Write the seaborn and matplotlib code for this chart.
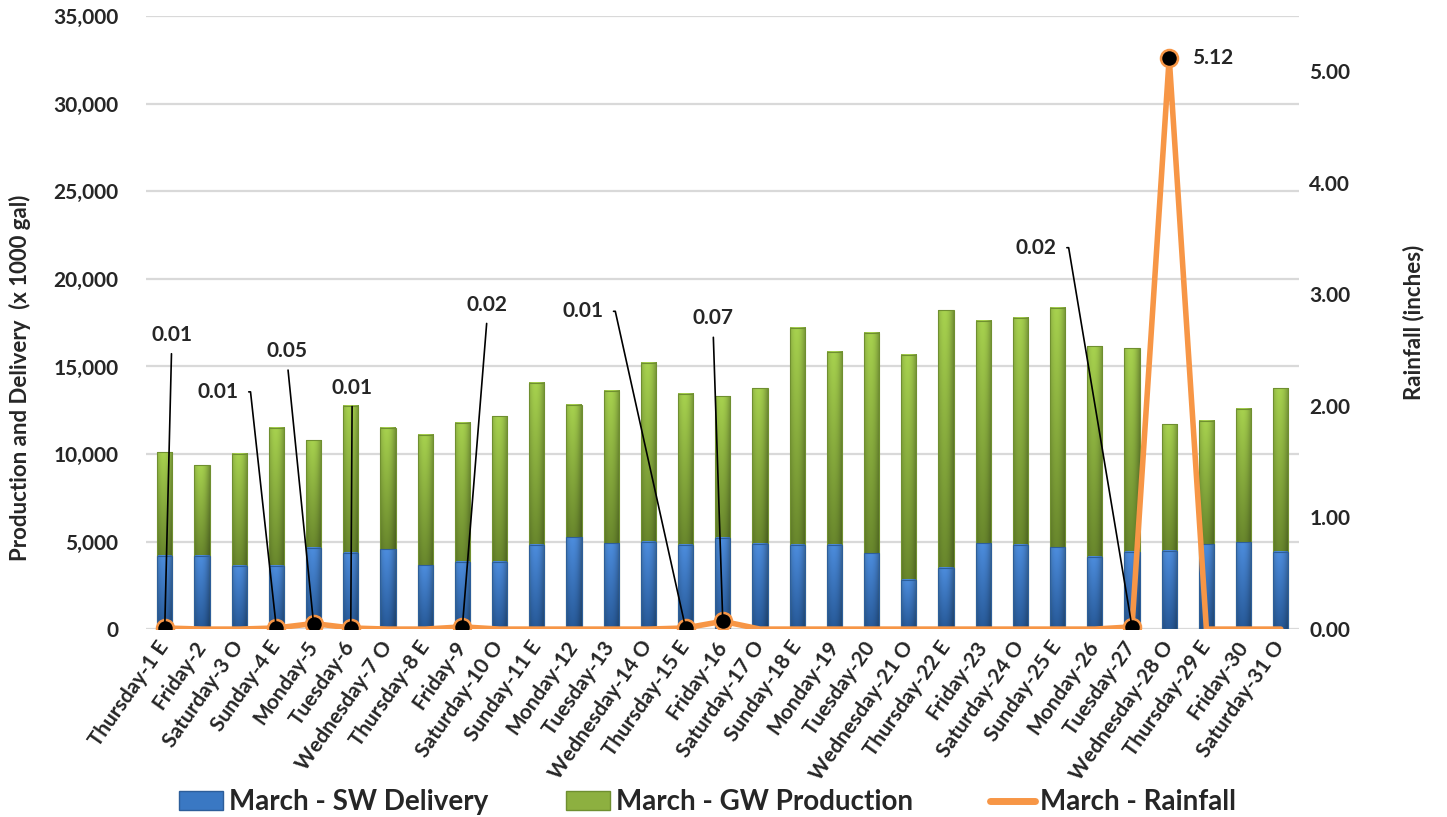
import numpy as np
import pandas as pd
import matplotlib
matplotlib.use("Agg")
import matplotlib.pyplot as plt
import seaborn as sns
from matplotlib.patches import Patch
from matplotlib.lines import Line2D
from matplotlib.ticker import FuncFormatter, MultipleLocator

# data
days = ["Thursday-1 E", "Friday-2", "Saturday-3 O", "Sunday-4 E", "Monday-5", "Tuesday-6",
        "Wednesday-7 O", "Thursday-8 E", "Friday-9", "Saturday-10 O", "Sunday-11 E", "Monday-12",
        "Tuesday-13", "Wednesday-14 O", "Thursday-15 E", "Friday-16", "Saturday-17 O", "Sunday-18 E",
        "Monday-19", "Tuesday-20", "Wednesday-21 O", "Thursday-22 E", "Friday-23", "Saturday-24 O",
        "Sunday-25 E", "Monday-26", "Tuesday-27", "Wednesday-28 O", "Thursday-29 E", "Friday-30",
        "Saturday-31 O"]
sw_delivery = [4200, 4200, 3600, 3600, 4650, 4350, 4550, 3650, 3850, 3850, 4800, 5250, 4900, 4980, 4800,
               5220, 4870, 4800, 4800, 4340, 2820, 3500, 4910, 4800, 4680, 4120, 4400, 4470, 4850, 4950, 4400]
gw_production = [5900, 5150, 6400, 7900, 6150, 8400, 6950, 7450, 7950, 8300, 9280, 7570, 8720, 10240, 8640,
                 8100, 8910, 12400, 11050, 12600, 12860, 14730, 12710, 12970, 13680, 12030, 11650, 7250,
                 7030, 7630, 9350]
rainfall = [0.01, 0, 0, 0.01, 0.05, 0.01, 0, 0, 0.02, 0, 0, 0, 0, 0, 0.01, 0.07, 0, 0, 0, 0, 0, 0, 0, 0,
            0, 0, 0.02, 5.12, 0, 0, 0]

df = pd.DataFrame({"day": days, "sw": sw_delivery, "gw": gw_production, "rain": rainfall})
df["total"] = df["sw"] + df["gw"]
df["pos"] = np.arange(len(df))

sns.set_theme(style="white")
plt.rcParams["font.family"] = ["Lato", "DejaVu Sans"]
plt.rcParams["font.weight"] = "bold"

BLUE_TOP, BLUE_BOT = np.array([76, 140, 220]) / 255, np.array([38, 88, 150]) / 255
GREEN_TOP, GREEN_BOT = np.array([166, 208, 78]) / 255, np.array([104, 134, 44]) / 255
ORANGE = "#F79646"

fig = plt.figure(figsize=(14.47, 8.17), dpi=100)
ax = fig.add_axes([0.101, 0.230, 0.797, 0.750])

# stacked bars: total (green) first, SW delivery (blue) drawn over it
sns.barplot(data=df, x="day", y="total", ax=ax, color="#8db040", width=0.41, saturation=1)
n_green = len(ax.patches)
sns.barplot(data=df, x="day", y="sw", ax=ax, color="#3a78c3", width=0.41, saturation=1)


def paint(x0, x1, y0, y1, top, bot, z):
    # simple Excel-like gradient: lighter at top, darker towards the sides
    v = np.linspace(0, 1, 80)[:, None, None]
    col = bot + (top - bot) * v
    h = np.linspace(-1, 1, 20)
    shade = 1 - 0.22 * h ** 2 - 0.08 * h
    img = np.clip(col * shade[None, :, None], 0, 1)
    ax.imshow(img, extent=[x0, x1, y0, y1], origin="lower", aspect="auto",
              interpolation="bilinear", zorder=z)


for i, p in enumerate(ax.patches):
    x0, w = p.get_x(), p.get_width()
    if i < n_green:
        paint(x0, x0 + w, df["sw"][i], df["total"][i], GREEN_TOP, GREEN_BOT, 1.5)
        p.set_facecolor("none")
        p.set_edgecolor("#6f8f30")
    else:
        j = i - n_green
        paint(x0, x0 + w, 0, df["sw"][j], BLUE_TOP, BLUE_BOT, 1.6)
        p.set_facecolor("none")
        p.set_edgecolor("#2d5e9a")
    p.set_linewidth(0.8)
    p.set_zorder(2)

ax.set_xlim(-0.5, len(df) - 0.5)
ax.set_ylim(0, 35000)
ax.yaxis.set_major_locator(MultipleLocator(5000))
ax.yaxis.set_major_formatter(FuncFormatter(lambda v, _: f"{v:,.0f}"))
ax.grid(axis="y", color="#d9d9d9", lw=1.6)
ax.set_axisbelow(True)
ax.set_xlabel("")
ax.set_ylabel("Production and Delivery  (x 1000 gal)", fontsize=16, fontweight="bold")
ax.yaxis.set_label_coords(-0.100, 0.41)
ax.tick_params(axis="y", labelsize=15, pad=20, length=0)
ax.tick_params(axis="x", labelsize=15, pad=10, length=0)
for lab in ax.get_xticklabels():
    lab.set_rotation(55)
    lab.set_ha("right")
    lab.set_va("center")
    lab.set_rotation_mode("anchor")
    lab.set_fontweight("bold")
for lab in ax.get_yticklabels():
    lab.set_fontweight("bold")
sns.despine(ax=ax, left=True, bottom=True)

# rainfall on the secondary axis
ax2 = ax.twinx()
sns.lineplot(data=df, x="pos", y="rain", ax=ax2, color=ORANGE, lw=4, zorder=3)
wet = df[df["rain"] > 0]
sns.scatterplot(data=wet, x="pos", y="rain", ax=ax2, color="black", edgecolor=ORANGE,
                linewidth=1.8, s=150, zorder=4)
ax2.set_ylim(0, 5.49)
ax2.set_xlim(-0.5, len(df) - 0.5)
ax2.yaxis.set_major_locator(MultipleLocator(1))
ax2.yaxis.set_major_formatter(FuncFormatter(lambda v, _: f"{v:.2f}"))
ax2.tick_params(axis="y", labelsize=15, pad=7, length=0)
for lab in ax2.get_yticklabels():
    lab.set_fontweight("bold")
ax2.set_ylabel("Rainfall (inches)", fontsize=16, fontweight="bold", labelpad=38)
ax2.set_xlabel("")
ax2.grid(False)
sns.despine(ax=ax2, left=True, bottom=True, right=True)

# data labels with leader lines (offsets in points, label centre relative to the point)
label_offsets = {0: (5, 211, False), 3: (-42, 170, True), 4: (-19, 196, False), 5: (1, 173, False),
                 8: (18, 232, False), 14: (-74, 228, True), 15: (-7, 218, False), 26: (-69, 273, True)}
for idx, (dx, dy, stub) in label_offsets.items():
    if stub:
        props = dict(arrowstyle="-", color="black", lw=1.2, relpos=(1, 0.5), shrinkA=5, shrinkB=0,
                     connectionstyle="arc,angleA=0,armA=12,angleB=90,armB=0,rad=0")
    else:
        props = dict(arrowstyle="-", color="black", lw=1.2, relpos=(0.5, 0), shrinkA=4, shrinkB=0)
    ax2.annotate(f"{df['rain'][idx]:.2f}", xy=(df["pos"][idx], df["rain"][idx]), xytext=(dx, dy),
                 textcoords="offset points", ha="center", va="center", fontsize=15,
                 fontweight="bold", arrowprops=props, zorder=5)
peak = df["rain"].idxmax()
ax2.annotate(f"{df['rain'][peak]:.2f}", xy=(df["pos"][peak], df["rain"][peak]), xytext=(31, 0),
             textcoords="offset points", ha="center", va="center", fontsize=15, fontweight="bold")

handles = [Patch(facecolor="#3a78c3", edgecolor="#2d5e9a"),
           Patch(facecolor="#8db040", edgecolor="#6f8f30"),
           Line2D([0], [0], color=ORANGE, lw=5)]
fig.legend(handles, ["March - SW Delivery", "March - GW Production", "March - Rainfall"],
           loc="center", bbox_to_anchor=(0.489, 0.018), ncol=3, frameon=False,
           prop=dict(size=20, weight="bold"), handlelength=1.6, handletextpad=0.2,
           columnspacing=2.8)

fig.savefig("out.png", dpi=100)
